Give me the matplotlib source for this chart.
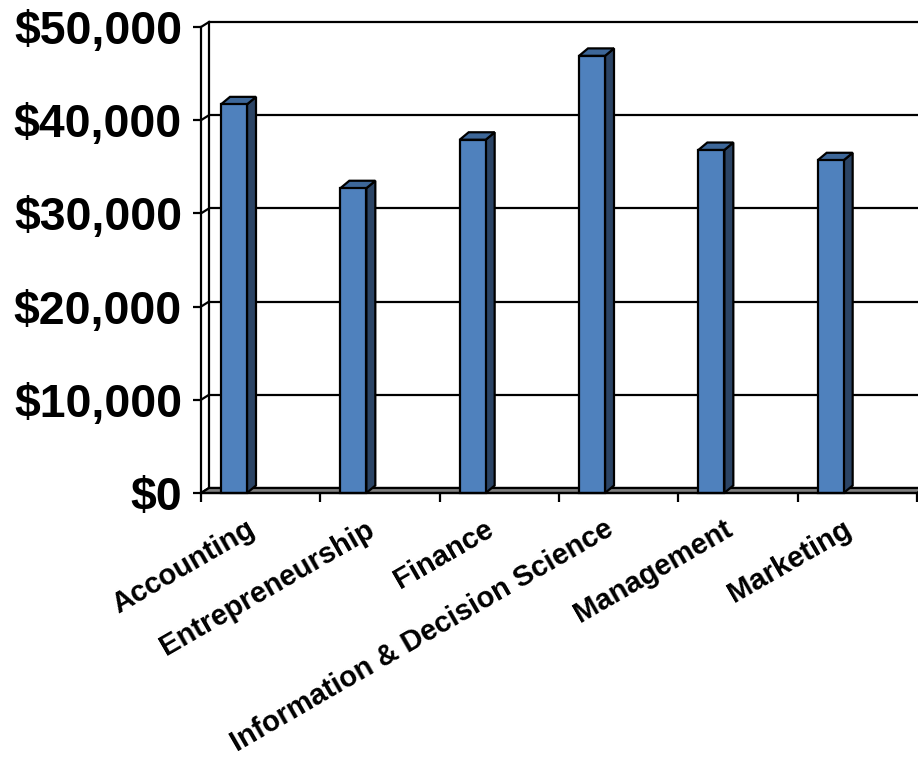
import matplotlib
matplotlib.use("Agg")
import matplotlib.pyplot as plt
from matplotlib.patches import Polygon

# ---- data ----
categories = ["Accounting", "Entrepreneurship", "Finance",
              "Information & Decision Science", "Management", "Marketing"]
salaries = [41700, 32700, 37900, 46900, 36800, 35700]
yticks = [0, 10000, 20000, 30000, 40000, 50000]
ytick_labels = ["$0", "$10,000", "$20,000", "$30,000", "$40,000", "$50,000"]

# ---- layout (pixels) ----
W, H = 918, 759
AX_L, AX_R, AX_B, AX_T = 201, 917, 493, 27
YMAX = 50000
n = len(categories)

plt.rcParams["font.family"] = ["Liberation Sans", "DejaVu Sans"]
fig = plt.figure(figsize=(W / 100, H / 100), dpi=100)
ax = fig.add_axes([AX_L / W, (H - AX_B) / H, (AX_R - AX_L) / W, (AX_B - AX_T) / H])
ax.set_xlim(0, n)
ax.set_ylim(0, YMAX)

px_x = n / (AX_R - AX_L)          # data units per pixel (x)
px_y = YMAX / (AX_B - AX_T)       # data units per pixel (y)

# depth offsets
wdx, wdy = 8 * px_x, 5 * px_y      # wall
bdx, bdy = 9 * px_x, 7.5 * px_y    # bars

LW = 1.6
BLACK = "black"

# back wall gridlines and connectors
for v in yticks:
    ax.plot([wdx, n + wdx], [v + wdy, v + wdy], color=BLACK, lw=LW, clip_on=False, zorder=1,
            solid_capstyle="butt")
    ax.plot([0, wdx], [v, v + wdy], color=BLACK, lw=LW, clip_on=False, zorder=1)
ax.plot([wdx, wdx], [wdy, YMAX + wdy], color=BLACK, lw=LW, clip_on=False, zorder=1)

# floor
floor = Polygon([(0, 0), (n, 0), (n + wdx, wdy), (wdx, wdy)], closed=True,
                facecolor="#808080", edgecolor=BLACK, lw=LW, clip_on=False, zorder=2)
ax.add_patch(floor)

# bars
FRONT, TOP, SIDE = "#4F81BD", "#3D6799", "#2B4465"
off = 20 * px_x
bw = 26 * px_x
for i, v in enumerate(salaries):
    x0 = i + off
    x1 = x0 + bw
    ax.bar([x0], [v], width=bw, align="edge", color=FRONT, edgecolor=BLACK,
           lw=LW, zorder=4, clip_on=False)
    side = Polygon([(x1, 0), (x1 + bdx, bdy), (x1 + bdx, v + bdy), (x1, v)], closed=True,
                   facecolor=SIDE, edgecolor=BLACK, lw=LW, zorder=3, clip_on=False,
                   joinstyle="miter")
    top = Polygon([(x0, v), (x0 + bdx, v + bdy), (x1 + bdx, v + bdy), (x1, v)], closed=True,
                  facecolor=TOP, edgecolor=BLACK, lw=LW, zorder=3, clip_on=False,
                  joinstyle="miter")
    ax.add_patch(side)
    ax.add_patch(top)

# axes / spines
for s in ["top", "right"]:
    ax.spines[s].set_visible(False)
ax.spines["left"].set_linewidth(LW)
ax.spines["bottom"].set_linewidth(LW)
ax.spines["left"].set_zorder(5)
ax.spines["bottom"].set_zorder(5)

ax.set_yticks(yticks)
ax.set_yticklabels(ytick_labels, fontsize=33.5, fontweight="bold")
ax.tick_params(axis="y", length=8 * 0.72, width=LW, pad=11 * 0.72, direction="out")

ax.set_xticks(list(range(n + 1)))
ax.set_xticklabels([])
ax.tick_params(axis="x", length=9 * 0.72, width=LW, direction="out")

# category labels
for i, c in enumerate(categories):
    ax.text(i + 0.5 - 15 * px_x, -22 * px_y, c, rotation=30, rotation_mode="anchor",
            ha="right", va="top", fontsize=21, fontweight="bold", clip_on=False)

fig.savefig("out.png", dpi=100)
